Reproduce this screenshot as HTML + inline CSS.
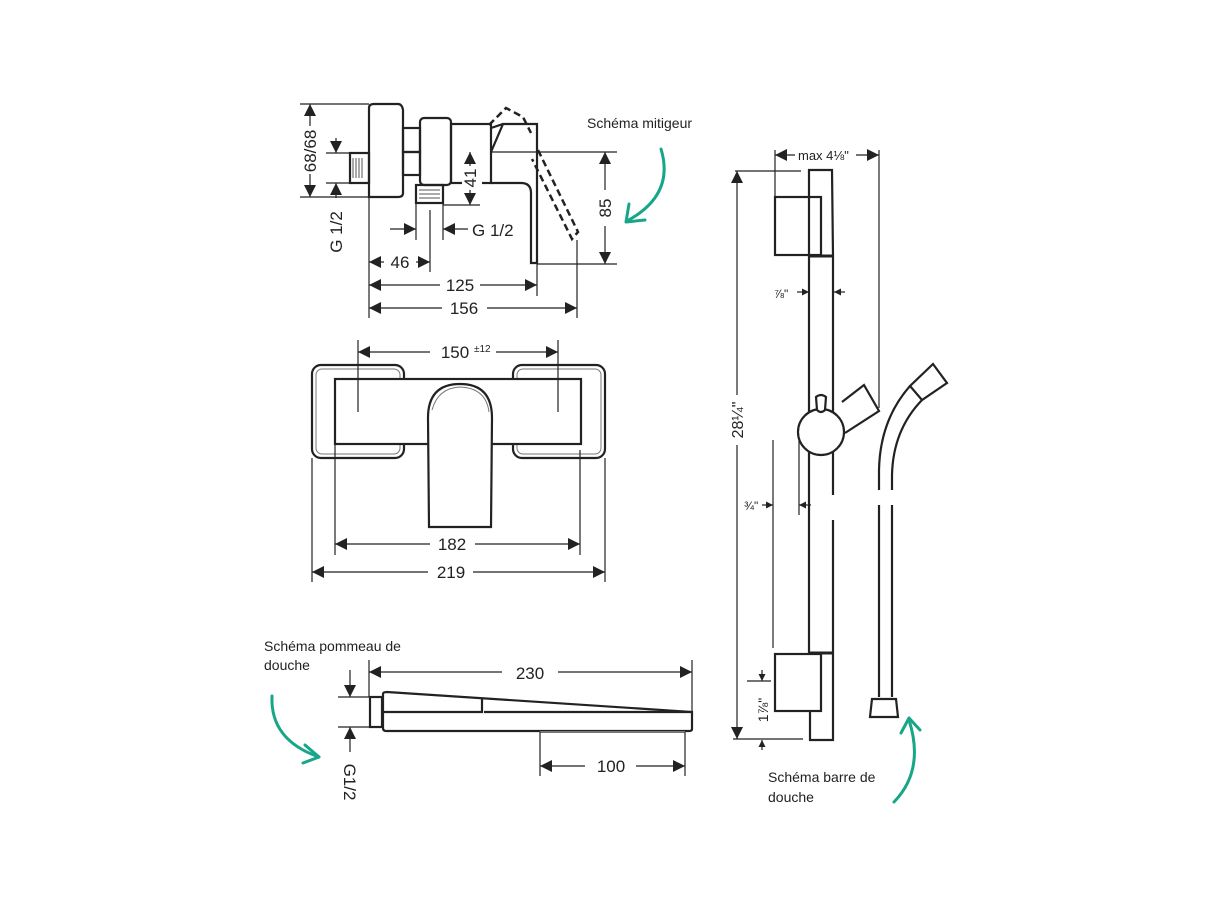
<!DOCTYPE html>
<html><head><meta charset="utf-8"><style>
html,body{margin:0;padding:0;background:#fff;}
svg{display:block;}
text{font-family:"Liberation Sans",sans-serif;fill:#222;}
.lbl{font-family:"Liberation Sans",sans-serif;font-size:14px;fill:#222;}
</style></head><body>
<svg width="1213" height="909" viewBox="0 0 1213 909" xmlns="http://www.w3.org/2000/svg">
<defs>
<marker id="a" viewBox="0 0 10 10" refX="10" refY="5" markerWidth="12" markerHeight="12" markerUnits="userSpaceOnUse" orient="auto-start-reverse"><path d="M0,0 L10,5 L0,10 z" fill="#222"/></marker>
<marker id="s" viewBox="0 0 10 10" refX="10" refY="5" markerWidth="7" markerHeight="7" markerUnits="userSpaceOnUse" orient="auto-start-reverse"><path d="M0,0 L10,5 L0,10 z" fill="#222"/></marker>
</defs>
<rect width="1213" height="909" fill="#fff"/>

<!-- ===== MITIGEUR SIDE VIEW ===== -->
<g fill="none" stroke="#222" stroke-width="2.2">
<path d="M369,108 Q369,104 374,104 L398,104 Q402,104 403,110 L403,193 Q403,197 398,197 L369,197 Z"/>
<rect x="350" y="153" width="19" height="30"/>
<rect x="403" y="128" width="17" height="24"/><rect x="403" y="152" width="17" height="23"/>
<rect x="420" y="118" width="31" height="67" rx="4"/>
<rect x="416" y="185" width="27" height="18"/>
<rect x="451" y="124" width="40" height="59"/>
<path d="M491,128 L503,124 L537,124 L537,263 L531,263 L531,193 Q531,183 521,183 L491,183"/>
<path d="M503,124 L491,152"/>
</g>
<g stroke="#555" stroke-width="1">
<line x1="353" y1="158" x2="353" y2="178"/><line x1="356" y1="158" x2="356" y2="178"/><line x1="359" y1="158" x2="359" y2="178"/><line x1="362" y1="158" x2="362" y2="178"/>
<line x1="419" y1="190" x2="440" y2="190"/><line x1="419" y1="194" x2="440" y2="194"/><line x1="419" y1="198" x2="440" y2="198"/>
</g>
<g fill="none" stroke="#222" stroke-width="2.5" stroke-dasharray="7,4">
<path d="M489,125 L506,108 L523,117 L531,133"/>
<path d="M538,150 L578,232 L572,239 L532,159"/>
</g>
<g stroke="#222" stroke-width="1.2" fill="none">
<line x1="300" y1="104" x2="369" y2="104"/><line x1="300" y1="197" x2="369" y2="197"/>
<line x1="310" y1="104" x2="310" y2="197" marker-start="url(#a)" marker-end="url(#a)"/>
<line x1="326" y1="153" x2="350" y2="153"/><line x1="326" y1="183" x2="350" y2="183"/>
<line x1="336" y1="138" x2="336" y2="153" marker-end="url(#a)"/>
<line x1="336" y1="198" x2="336" y2="183" marker-end="url(#a)"/>
<line x1="491" y1="152" x2="617" y2="152"/><line x1="443" y1="205" x2="480" y2="205"/>
<line x1="470" y1="152" x2="470" y2="205" marker-start="url(#a)" marker-end="url(#a)"/>
<line x1="537" y1="264" x2="617" y2="264"/>
<line x1="605" y1="152" x2="605" y2="264" marker-start="url(#a)" marker-end="url(#a)"/>
<line x1="416" y1="203" x2="416" y2="240"/><line x1="443" y1="203" x2="443" y2="240"/>
<line x1="390" y1="229" x2="416" y2="229" marker-end="url(#a)"/>
<line x1="468" y1="229" x2="443" y2="229" marker-end="url(#a)"/>
<line x1="430" y1="210" x2="430" y2="272"/>
<line x1="369" y1="197" x2="369" y2="318"/>
<line x1="537" y1="263" x2="537" y2="296"/>
<line x1="577" y1="240" x2="577" y2="318"/>
<line x1="369" y1="262" x2="384" y2="262" marker-start="url(#a)"/>
<line x1="416" y1="262" x2="430" y2="262" marker-end="url(#a)"/>
<line x1="369" y1="285" x2="440" y2="285" marker-start="url(#a)"/>
<line x1="480" y1="285" x2="537" y2="285" marker-end="url(#a)"/>
<line x1="369" y1="308" x2="442" y2="308" marker-start="url(#a)"/>
<line x1="487" y1="308" x2="577" y2="308" marker-end="url(#a)"/>
</g>
<g fill="#fff"><rect x="300" y="126" width="20" height="48"/><rect x="598" y="190" width="16" height="36"/><rect x="462" y="166" width="20" height="24"/></g>
<g font-size="17">
<text transform="translate(316,151) rotate(-90)" text-anchor="middle">68/68</text>
<text transform="translate(342,232) rotate(-90)" text-anchor="middle">G 1/2</text>
<text transform="translate(476,178) rotate(-90)" text-anchor="middle">41</text>
<text transform="translate(611,208) rotate(-90)" text-anchor="middle">85</text>
<text x="472" y="236">G 1/2</text>
<text x="400" y="268" text-anchor="middle">46</text>
<text x="460" y="291" text-anchor="middle">125</text>
<text x="464" y="314" text-anchor="middle">156</text>
</g>

<!-- ===== FRONT VIEW ===== -->
<g fill="none" stroke="#222" stroke-width="2.2">
<rect x="312" y="365" width="92" height="93" rx="9"/>
<rect x="513" y="365" width="92" height="93" rx="9"/>
</g>
<g fill="none" stroke="#777" stroke-width="1">
<rect x="316" y="369" width="84" height="85" rx="6"/>
<rect x="517" y="369" width="84" height="85" rx="6"/>
</g>
<rect x="335" y="379" width="246" height="65" fill="#fff" stroke="#222" stroke-width="2.2"/>
<path d="M429,527 L428,418 Q428,384 460,384 Q492,384 492,418 L491,527 Z" fill="#fff" stroke="#222" stroke-width="2.2"/>
<path d="M432,410 Q438,388 460,387 Q486,388 489,412" fill="none" stroke="#777" stroke-width="1"/>
<g stroke="#222" stroke-width="1.2" fill="none">
<line x1="358" y1="340" x2="358" y2="412"/><line x1="558" y1="340" x2="558" y2="412"/>
<line x1="358" y1="352" x2="430" y2="352" marker-start="url(#a)"/>
<line x1="496" y1="352" x2="558" y2="352" marker-end="url(#a)"/>
<line x1="335" y1="444" x2="335" y2="555"/><line x1="580" y1="450" x2="580" y2="555"/>
<line x1="312" y1="458" x2="312" y2="582"/><line x1="605" y1="458" x2="605" y2="582"/>
<line x1="335" y1="544" x2="430" y2="544" marker-start="url(#a)"/>
<line x1="475" y1="544" x2="580" y2="544" marker-end="url(#a)"/>
<line x1="312" y1="572" x2="428" y2="572" marker-start="url(#a)"/>
<line x1="473" y1="572" x2="605" y2="572" marker-end="url(#a)"/>
</g>
<g font-size="17">
<text x="455" y="358" text-anchor="middle">150</text>
<text x="474" y="352" font-size="10">±12</text>
<text x="452" y="550" text-anchor="middle">182</text>
<text x="451" y="578" text-anchor="middle">219</text>
</g>

<!-- ===== SHOWER HEAD ===== -->
<g fill="none" stroke="#222" stroke-width="2.2">
<rect x="370" y="697" width="12" height="30"/>
<path d="M383,694 Q383,692 387,692 L692,712 L692,729 Q692,731 689,731 L386,731 Q383,731 383,728 Z"/>
<path d="M383,712 L482,712 L482,699 M484,712 L692,712"/>
</g>
<line x1="540" y1="732" x2="685" y2="732" stroke="#777" stroke-width="2"/>
<g stroke="#222" stroke-width="1.2" fill="none">
<line x1="369" y1="660" x2="369" y2="697"/><line x1="692" y1="660" x2="692" y2="712"/>
<line x1="369" y1="672" x2="502" y2="672" marker-start="url(#a)"/>
<line x1="558" y1="672" x2="692" y2="672" marker-end="url(#a)"/>
<line x1="540" y1="732" x2="540" y2="776"/><line x1="685" y1="732" x2="685" y2="776"/>
<line x1="540" y1="766" x2="585" y2="766" marker-start="url(#a)"/>
<line x1="636" y1="766" x2="685" y2="766" marker-end="url(#a)"/>
<line x1="338" y1="697" x2="370" y2="697"/><line x1="338" y1="727" x2="370" y2="727"/>
<line x1="350" y1="670" x2="350" y2="697" marker-end="url(#a)"/>
<line x1="350" y1="752" x2="350" y2="727" marker-end="url(#a)"/>
</g>
<g font-size="17">
<text x="530" y="679" text-anchor="middle">230</text>
<text x="611" y="772" text-anchor="middle">100</text>
<text transform="translate(344,782) rotate(90)" text-anchor="middle">G1/2</text>
</g>

<!-- ===== SHOWER BAR ===== -->
<g fill="none" stroke="#222" stroke-width="2.2">
<path d="M809,256 L809,170 L832,170 L833,256"/>
<rect x="775" y="197" width="46" height="58"/>
<line x1="808" y1="256" x2="834" y2="256" stroke-width="3"/>
<line x1="809" y1="256" x2="809" y2="653"/>
<line x1="833" y1="256" x2="833" y2="495"/><line x1="833" y1="520" x2="833" y2="653"/>
<line x1="808" y1="653" x2="834" y2="653" stroke-width="3"/>
<rect x="775" y="654" width="46" height="57"/>
<path d="M810,711 L810,740 L833,740 L833,653"/>
<circle cx="821" cy="432" r="23" fill="#fff"/>
<path d="M817,410 L816,397 Q821,393 826,397 L825,410 Q821,414 817,410 Z" fill="#fff"/>
<path d="M842,402 L864,385 L879,411 L845,433"/>
<path d="M910,386 L933,364 L947,383 L922,400 Z"/>
<path d="M910,386 Q880,420 879,470 L879,490 M879,505 L879,697"/>
<path d="M922,400 Q893,430 892,475 L892,490 M892,505 L892,697"/>
<path d="M872,699 L896,699 L898,717 L870,717 Z"/>
</g>
<g stroke="#222" stroke-width="1.2" fill="none">
<line x1="775" y1="150" x2="775" y2="196"/><line x1="879" y1="150" x2="879" y2="408"/>
<line x1="775" y1="155" x2="795" y2="155" marker-start="url(#a)"/>
<line x1="856" y1="155" x2="879" y2="155" marker-end="url(#a)"/>
<line x1="735" y1="171" x2="801" y2="171"/><line x1="733" y1="739" x2="803" y2="739"/>
<line x1="737" y1="171" x2="737" y2="395" marker-start="url(#a)"/>
<line x1="737" y1="445" x2="737" y2="739" marker-end="url(#a)"/>
<line x1="797" y1="292" x2="809" y2="292" marker-end="url(#s)"/>
<line x1="845" y1="292" x2="834" y2="292" marker-end="url(#s)"/>
<line x1="773" y1="440" x2="773" y2="648"/><line x1="799" y1="440" x2="799" y2="515"/>
<line x1="762" y1="505" x2="773" y2="505" marker-end="url(#s)"/>
<line x1="811" y1="505" x2="799" y2="505" marker-end="url(#s)"/>
<line x1="747" y1="681" x2="771" y2="681"/>
<line x1="762" y1="670" x2="762" y2="681" marker-end="url(#s)"/>
<line x1="762" y1="750" x2="762" y2="740" marker-end="url(#s)"/>
</g>
<g font-size="13">
<text x="798" y="160">max 4⅛"</text>
<text x="774" y="298" font-size="12">⅞"</text>
<text x="744" y="510" font-size="12">¾"</text>
<text transform="translate(743,420) rotate(-90)" text-anchor="middle" font-size="16">28¼"</text>
<text transform="translate(768,710) rotate(-90)" text-anchor="middle" font-size="14">1⅞"</text>
</g>

<!-- ===== LABELS & GREEN ARROWS ===== -->
<text class="lbl" x="587" y="128">Schéma mitigeur</text>
<text class="lbl" x="264" y="651">Schéma pommeau de</text>
<text class="lbl" x="264" y="670">douche</text>
<text class="lbl" x="768" y="782">Schéma barre de</text>
<text class="lbl" x="768" y="802">douche</text>
<g fill="none" stroke="#18a689" stroke-width="3" stroke-linecap="round" stroke-linejoin="round">
<path d="M661,149 Q675,195 627,221"/>
<path d="M629,204 L626,222 L645,220"/>
<path d="M272,696 Q270,740 319,757"/>
<path d="M305,745 L319,757 L303,763"/>
<path d="M894,802 Q925,770 909,720"/>
<path d="M901,733 L909,718 L920,730"/>
</g>
</svg>
</body></html>
